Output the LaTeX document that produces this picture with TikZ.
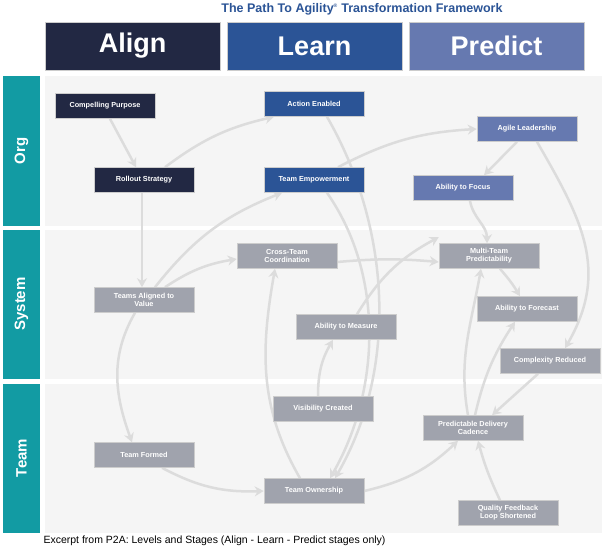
\documentclass[tikz,border=0pt]{standalone}
\usepackage{fontspec}
\setmainfont{Liberation Sans}
\usetikzlibrary{arrows.meta}
\pgfdeclarelayer{bands}
\pgfdeclarelayer{conn}
\pgfsetlayers{bands,conn,main}
\definecolor{cA}{HTML}{222843}
\definecolor{cL}{HTML}{2B5496}
\definecolor{cP}{HTML}{6679B0}
\definecolor{cG}{HTML}{A0A3AD}
\definecolor{cT}{HTML}{129BA3}
\definecolor{cBg}{HTML}{F5F5F5}
\definecolor{cAr}{HTML}{DCDCDC}
\definecolor{cTitle}{HTML}{2B5496}
\tikzset{
 box/.style={draw=white!80!black,line width=0.6pt,minimum width=100pt,minimum height=25pt,inner sep=1pt,align=center,text=white,font=\fontsize{7.3}{8}\selectfont\bfseries},
 ba/.style={box,fill=cA}, bl/.style={box,fill=cL}, bp/.style={box,fill=cP}, bg/.style={box,fill=cG},
 head/.style={draw=white!80!black,minimum width=175pt,minimum height=48pt,text=white,font=\fontsize{27}{30}\selectfont\bfseries},
 lvl/.style={text=white,font=\fontsize{15}{16}\selectfont\bfseries,rotate=90},
 arr/.style={draw=cAr,line width=2.5pt,-{Stealth[length=9pt,width=10pt]}}
}
\begin{document}
\begin{tikzpicture}[x=1pt,y=-1pt]
\useasboundingbox (0,0) rectangle (602,553);
\begin{pgfonlayer}{bands}
\fill[white] (0,0) rectangle (602,553);
\fill[cBg] (45,76) rectangle (602,226);
\fill[cBg] (45,230) rectangle (602,379);
\fill[cBg] (45,384) rectangle (602,533);
\fill[cT] (3,76) rectangle (40,226);
\fill[cT] (3,230) rectangle (40,379);
\fill[cT] (3,384) rectangle (40,533);
\end{pgfonlayer}
\node (title) at (362,9) {\textcolor{cTitle}{\fontsize{12.5}{14}\selectfont\bfseries The Path To Agility\textsuperscript{\tiny®} Transformation Framework}};
\node[head,fill=cA] (hA) at (132.5,46) {Align};
\node[head,fill=cL] (hL) at (314.5,46) {Learn};
\node[head,fill=cP] (hP) at (496.5,46) {Predict};
\node[lvl] (lo) at (21.5,151) {Org};
\node[lvl] (ls) at (21.5,304) {System};
\node[lvl] (lt) at (21.5,458) {Team};
\node[anchor=west,font=\fontsize{10.5}{12}\selectfont] (cap) at (40,541) {Excerpt from P2A: Levels and Stages (Align - Learn - Predict stages only)};

\node[ba] (cp) at (105,106) {Compelling Purpose};
\node[bl] (ae) at (314,104) {Action Enabled};
\node[bp] (al) at (527,129) {Agile Leadership};
\node[ba] (rs) at (144,180) {Rollout Strategy};
\node[bl] (te) at (314,180) {Team Empowerment};
\node[bp] (af) at (463,188) {Ability to Focus};
\node[bg] (ct) at (287,256) {Cross-Team\\Coordination};
\node[bg] (mt) at (489,256) {Multi-Team\\Predictability};
\node[bg] (ta) at (144,300) {Teams Aligned to\\Value};
\node[bg] (fc) at (527,309) {Ability to Forecast};
\node[bg] (am) at (346,327) {Ability to Measure};
\node[bg] (cr) at (550,361) {Complexity Reduced};
\node[bg] (vc) at (323,409) {Visibility Created};
\node[bg] (pd) at (473,428) {Predictable Delivery\\Cadence};
\node[bg] (tf) at (144,455) {Team Formed};
\node[bg] (to) at (314,491) {Team Ownership};
\node[bg] (qf) at (508,513) {Quality Feedback\\Loop Shortened};

\begin{pgfonlayer}{conn}
\draw[arr] ([xshift=5pt]cp.south) -- ([xshift=-8pt]rs.north);
\draw[arr] ([xshift=21pt]rs.north) to[bend left=12] ([xshift=-40pt]ae.south);
\draw[arr] ([xshift=-2pt]rs.south) -- ([xshift=-2pt]ta.north);
\draw[arr] ([xshift=11pt]ta.north) to[bend left=15] ([xshift=-32pt]te.south);
\draw[arr] ([xshift=21pt]ta.north) to[bend left=12] ([yshift=-3pt]ct.west);
\draw[arr] ([xshift=-9pt]ta.south) to[out=240,in=110,looseness=1] ([xshift=-12pt]tf.north);
\draw[arr] ([xshift=24pt]te.north) to[bend left=12] (al.west);
\draw[arr] ([xshift=13pt]ae.south) to[out=-60,in=60,looseness=0.9] ([xshift=21pt]to.north);
\draw[arr] ([xshift=13pt]te.south) to[out=-55,in=60,looseness=0.9] ([xshift=16pt]to.north);
\draw[arr] ([xshift=-14pt]to.north) to[out=120,in=-100,looseness=1] ([xshift=-12pt]ct.south);
\draw[arr] ([xshift=18pt]tf.south) to[bend right=15] (to.west);
\draw[arr] (to.east) to[bend right=15] ([xshift=-15pt]pd.south);
\draw[arr] ([xshift=-5pt]vc.north) to[out=90,in=-120] ([xshift=-13pt]am.south);
\draw[arr] ([xshift=11pt]am.north) to[bend left=15] ([yshift=6pt]mt.north west);
\draw[arr] ([yshift=-6pt]ct.east) to[bend left=5] ([yshift=-6pt]mt.west);
\draw[arr] ([xshift=-10pt]al.south) -- ([xshift=21pt]af.north);
\draw[arr] ([xshift=10pt]al.south) to[out=-60,in=60,looseness=1.1] ([xshift=15pt]cr.north);
\draw[arr] ([xshift=7pt]af.south) to[out=-80,in=90] ([xshift=-2pt]mt.north);
\draw[arr] ([xshift=11pt]mt.south) to[bend left=5] ([xshift=-7pt]fc.north);
\draw[arr] ([xshift=-12pt]cr.south) -- ([xshift=19pt]pd.north);
\draw[arr] ([xshift=-5pt]pd.north) to[out=100,in=-100] ([xshift=-8pt]mt.south);
\draw[arr] ([xshift=2pt]pd.north) to[bend left=10] ([xshift=-12pt]fc.south);
\draw[arr] ([xshift=-8pt]qf.north) to[bend left=5] ([xshift=5pt]pd.south);
\end{pgfonlayer}
\end{tikzpicture}
\end{document}
